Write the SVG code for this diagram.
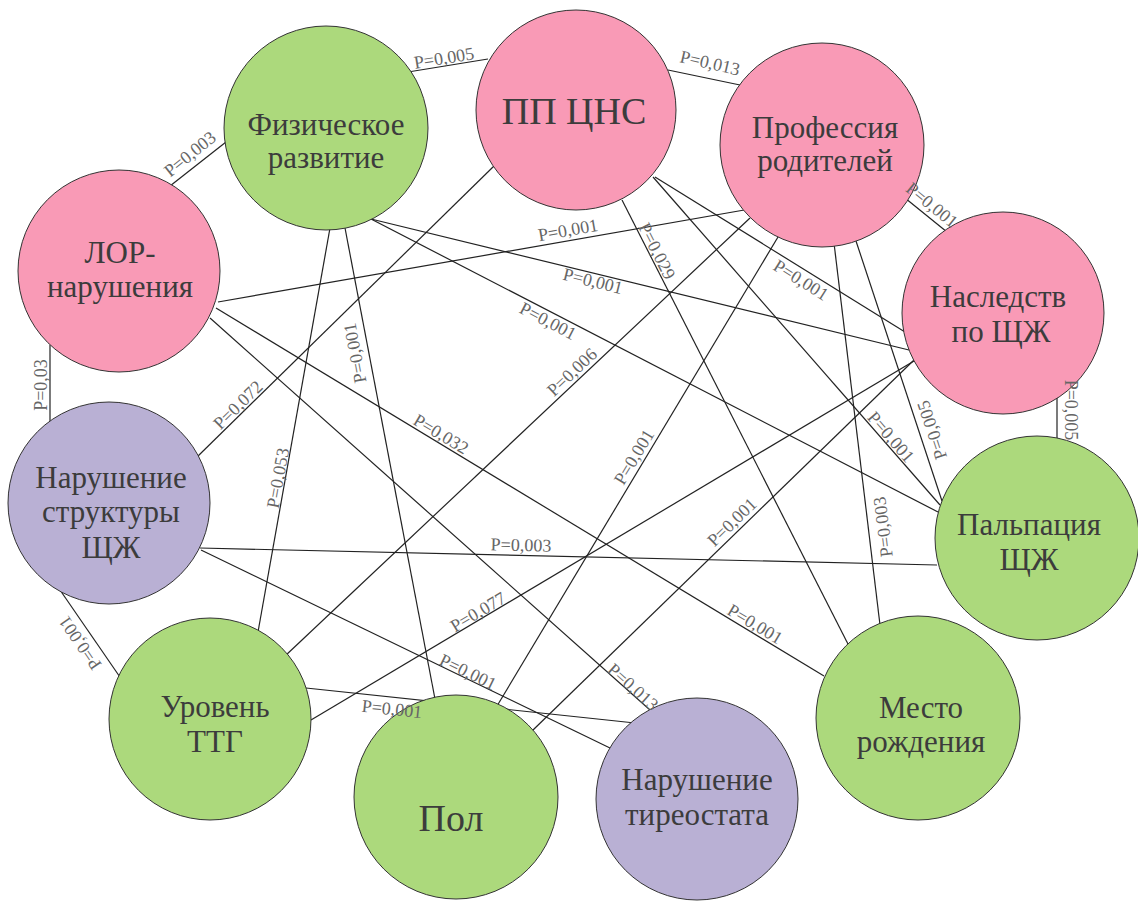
<svg xmlns="http://www.w3.org/2000/svg" width="1138" height="901" viewBox="0 0 1138 901" font-family="'Liberation Serif', 'Times New Roman', Times, serif">
<style>
.e{stroke:#222;stroke-width:1.2;fill:none}
.l{font-size:18px;fill:#666;text-anchor:middle}
.n{stroke:#333;stroke-width:1}
.g{fill:#acd97c}.p{fill:#f99ab6}.v{fill:#b9b0d4}
.t{font-size:31px;fill:#3c3c3c;text-anchor:middle}
.b{font-size:38px}
</style>
<rect width="1138" height="901" fill="#fff"/>
<g id="connectors">
<line class="e" x1="408" y1="72" x2="488" y2="59"/>
<line class="e" x1="668" y1="70" x2="740" y2="85"/>
<line class="e" x1="170" y1="186" x2="226" y2="142"/>
<line class="e" x1="905" y1="198" x2="947" y2="232"/>
<line class="e" x1="1057" y1="390" x2="1057" y2="440"/>
<line class="e" x1="50" y1="345" x2="50" y2="423"/>
<line class="e" x1="60" y1="590" x2="122" y2="680"/>
<line class="e" x1="218" y1="302" x2="750" y2="209"/>
<line class="e" x1="371" y1="219" x2="909" y2="350"/>
<line class="e" x1="371" y1="219" x2="938" y2="512"/>
<line class="e" x1="345" y1="228" x2="435" y2="699"/>
<line class="e" x1="330" y1="228" x2="258" y2="632"/>
<line class="e" x1="494" y1="166" x2="196" y2="458"/>
<line class="e" x1="622" y1="200" x2="850" y2="648"/>
<line class="e" x1="655" y1="177" x2="905" y2="332"/>
<line class="e" x1="653" y1="177" x2="940" y2="505"/>
<line class="e" x1="781" y1="232" x2="497" y2="706"/>
<line class="e" x1="750" y1="218" x2="285" y2="656"/>
<line class="e" x1="834" y1="243" x2="880" y2="625"/>
<line class="e" x1="856" y1="241" x2="942" y2="501"/>
<line class="e" x1="200" y1="548" x2="937" y2="565"/>
<line class="e" x1="201" y1="550" x2="610" y2="748"/>
<line class="e" x1="306" y1="688" x2="635" y2="723"/>
<line class="e" x1="311" y1="720" x2="914" y2="361"/>
<line class="e" x1="532" y1="731" x2="914" y2="360"/>
<line class="e" x1="216" y1="308" x2="824" y2="676"/>
<line class="e" x1="210" y1="318" x2="650" y2="710"/>
</g>
<g id="node-fiz"><circle class="n g" cx="326" cy="128" r="102"/><text class="t" x="326" y="135">Физическое</text><text class="t" x="326" y="168">развитие</text></g>
<g id="node-ppcns"><circle class="n p" cx="576" cy="110" r="100"/><text class="t b" x="574" y="124">ПП ЦНС</text></g>
<g id="node-prof"><circle class="n p" cx="822" cy="145" r="102"/><text class="t" x="825" y="138">Профессия</text><text class="t" x="825" y="171">родителей</text></g>
<g id="node-lor"><circle class="n p" cx="119" cy="271" r="101"/><text class="t" x="120" y="263">ЛОР-</text><text class="t" x="120" y="297">нарушения</text></g>
<g id="node-nasl"><circle class="n p" cx="1003" cy="313" r="101"/><text class="t" x="998" y="307">Наследств</text><text class="t" x="1001" y="342">по ЩЖ</text></g>
<g id="node-str"><circle class="n v" cx="109" cy="503" r="101"/><text class="t" x="111" y="488">Нарушение</text><text class="t" x="111" y="522">структуры</text><text class="t" x="111" y="558">ЩЖ</text></g>
<g id="node-palp"><circle class="n g" cx="1037" cy="538" r="102"/><text class="t" x="1029" y="535">Пальпация</text><text class="t" x="1029" y="570">ЩЖ</text></g>
<g id="node-ttg"><circle class="n g" cx="210" cy="719" r="101"/><text class="t" x="215" y="717">Уровень</text><text class="t" x="215" y="752">ТТГ</text></g>
<g id="node-mesto"><circle class="n g" cx="918" cy="718" r="102"/><text class="t" x="921" y="718">Место</text><text class="t" x="921" y="752">рождения</text></g>
<g id="node-pol"><circle class="n g" cx="456" cy="797" r="102"/><text class="t b" x="451" y="831">Пол</text></g>
<g id="node-tireo"><circle class="n v" cx="697" cy="799" r="101"/><text class="t" x="697" y="790">Нарушение</text><text class="t" x="697" y="825">тиреостата</text></g>
<g id="connector-labels">
<text class="l" transform="translate(444,58) rotate(-9)" y="6">P=0,005</text>
<text class="l" transform="translate(710,63) rotate(13)" y="6">P=0,013</text>
<text class="l" transform="translate(190,154) rotate(-39)" y="6">P=0,003</text>
<text class="l" transform="translate(932,205) rotate(39)" y="6">P=0,001</text>
<text class="l" transform="translate(1071,410) rotate(90)" y="6">P=0,005</text>
<text class="l" transform="translate(41,385) rotate(-90)" y="6">P=0,03</text>
<text class="l" transform="translate(80,643) rotate(-124.6)" y="6">P=0,001</text>
<text class="l" transform="translate(568,230) rotate(-10)" y="6">P=0,001</text>
<text class="l" transform="translate(593,281) rotate(13.8)" y="6">P=0,001</text>
<text class="l" transform="translate(548,321) rotate(27.4)" y="6">P=0,001</text>
<text class="l" transform="translate(801,280) rotate(32)" y="6">P=0,001</text>
<text class="l" transform="translate(657,251) rotate(63)" y="6">P=0,029</text>
<text class="l" transform="translate(238,405) rotate(-44.6)" y="6">P=0,072</text>
<text class="l" transform="translate(355,353) rotate(-100.8)" y="6">P=0,001</text>
<text class="l" transform="translate(278,478) rotate(-79.9)" y="6">P=0,053</text>
<text class="l" transform="translate(572,372) rotate(-43.3)" y="6">P=0,006</text>
<text class="l" transform="translate(441,434) rotate(31)" y="6">P=0,032</text>
<text class="l" transform="translate(634,457) rotate(-59)" y="6">P=0,001</text>
<text class="l" transform="translate(891,437) rotate(49)" y="6">P=0,001</text>
<text class="l" transform="translate(932,430) rotate(-108.3)" y="6">P=0,005</text>
<text class="l" transform="translate(883,527) rotate(-97)" y="6">P=0,003</text>
<text class="l" transform="translate(521,545) rotate(1.3)" y="6">P=0,003</text>
<text class="l" transform="translate(732,522) rotate(-44.2)" y="6">P=0,001</text>
<text class="l" transform="translate(478,612) rotate(-30.8)" y="6">P=0,077</text>
<text class="l" transform="translate(468,672) rotate(25.8)" y="6">P=0,001</text>
<text class="l" transform="translate(633,687) rotate(41.7)" y="6">P=0,013</text>
<text class="l" transform="translate(755,624) rotate(31)" y="6">P=0,001</text>
<text class="l" transform="translate(392,709) rotate(6)" y="6">P=0,001</text>
</g>
</svg>
